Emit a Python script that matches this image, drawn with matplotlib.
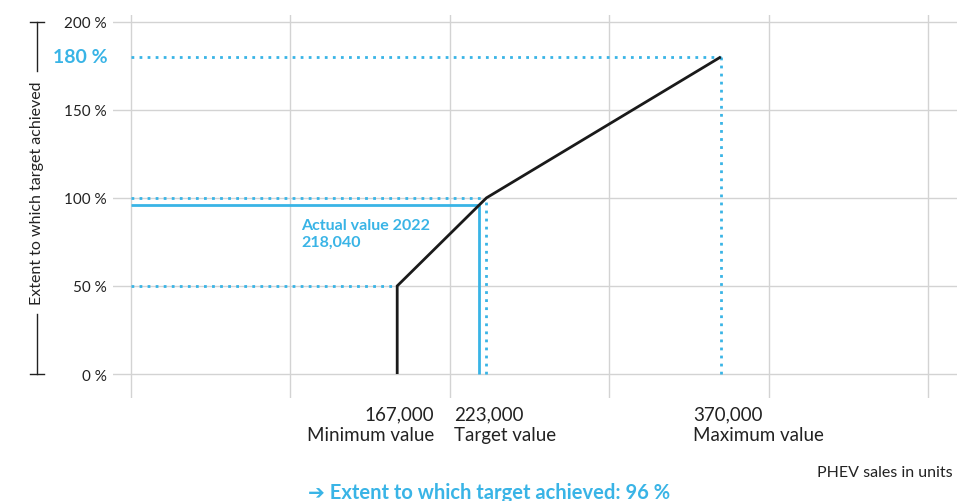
import matplotlib
matplotlib.use("Agg")
import matplotlib.pyplot as plt
from matplotlib.lines import Line2D
from matplotlib.transforms import blended_transform_factory

plt.rcParams['font.family'] = ['Lato', 'DejaVu Sans']

# Target-achievement curve for PHEV sales
min_units = 167000
target_units = 223000
max_units = 370000
actual_units = 218040

min_pct = 50
target_pct = 100
max_pct = 180
actual_pct = 96

curve_x = [min_units, min_units, target_units, max_units]
curve_y = [0, min_pct, target_pct, max_pct]

y_ticks = [0, 50, 100, 150, 200]
y_tick_labels = ["0 %", "50 %", "100 %", "150 %", "200 %"]
x_grid = [0, 100000, 200000, 300000, 400000, 500000]

marker_labels = ["Minimum value", "Target value", "Maximum value"]

BLUE = "#39b4e6"
BLACK = "#1a1a1a"
GREY = "#d3d3d3"
TEXT = "#222222"

W, H = 973, 502
fig = plt.figure(figsize=(W / 100, H / 100), dpi=100)

def fx(px):
    return px / W

def fy(py):
    return 1 - py / H

# plot region
left, right, top, bottom = 113, 957, 16, 399
ax = fig.add_axes([fx(left), fy(bottom), fx(right) - fx(left), fy(top) - fy(bottom)])
ax.set_xlim(-11300, 518200)
ax.set_ylim(-13.6, 203.8)
for s in ax.spines.values():
    s.set_visible(False)

for v in y_ticks:
    ax.axhline(v, color=GREY, lw=1.0, zorder=0)
for v in x_grid:
    ax.axvline(v, color=GREY, lw=1.0, zorder=0)

ax.set_xticks([])
ax.set_yticks(y_ticks)
ax.set_yticklabels(y_tick_labels, fontsize=11, color=TEXT)
ax.tick_params(axis='y', length=0, pad=4.3)

dot = dict(color=BLUE, lw=2.0, linestyle=(0, (1, 1.9)), dash_capstyle='butt', zorder=2)
# reference dotted guides
ax.plot([0, min_units], [min_pct, min_pct], **dot)
ax.plot([0, target_units], [target_pct, target_pct], **dot)
ax.plot([target_units, target_units], [0, target_pct], **dot)
ax.plot([0, max_units], [max_pct, max_pct], **dot)
ax.plot([max_units, max_units], [0, max_pct], **dot)

# actual value
ax.plot([0, actual_units], [actual_pct, actual_pct], color=BLUE, lw=2.0, solid_capstyle='butt', zorder=3)
ax.plot([actual_units, actual_units], [0, actual_pct], color=BLUE, lw=2.0, solid_capstyle='butt', zorder=3)

# achievement curve
ax.plot(curve_x, curve_y, color=BLACK, lw=2.0, solid_joinstyle='miter', solid_capstyle='butt', zorder=4)

ax.annotate(f"Actual value 2022\n{actual_units:,}", xy=(0, target_pct), xycoords='data',
            xytext=(170, -20), textcoords='offset pixels', ha='left', va='top',
            fontsize=11.5, fontweight='bold', color=BLUE, linespacing=1.25)

# 180 % highlight label
trans = blended_transform_factory(ax.transAxes, ax.transData)
ax.annotate(f"{max_pct} %", xy=(0, max_pct), xycoords=trans, xytext=(-5, 0),
            textcoords='offset pixels', ha='right', va='center',
            fontsize=14, fontweight='bold', color=BLUE)

# threshold labels below the axis
xtrans = blended_transform_factory(ax.transData, fig.transFigure)
label_specs = [
    (min_units, marker_labels[0], 'right', 37),
    (target_units, marker_labels[1], 'left', -32),
    (max_units, marker_labels[2], 'left', -28),
]
for xv, name, ha, off in label_specs:
    ax.annotate(f"{xv:,}\n{name}", xy=(xv, fy(425)), xycoords=xtrans,
                xytext=(off, 0), textcoords='offset pixels', ha=ha, va='center',
                fontsize=13.5, color=TEXT, linespacing=1.25, annotation_clip=False)

fig.text(fx(953), fy(473), "PHEV sales in units", ha='right', va='center',
         fontsize=11.5, color=TEXT)
fig.text(fx(489), fy(493), "\u2794 Extent to which target achieved: 96 %", ha='center', va='center',
         fontsize=14.5, fontweight='bold', color=BLUE)

# y-axis title with bracket bars
fig.text(fx(37), fy(193), "Extent to which target achieved", rotation=90,
         ha='center', va='center', fontsize=11.5, color=TEXT)
bar_kw = dict(color=TEXT, lw=1.0, transform=fig.transFigure)
fig.add_artist(Line2D([fx(37), fx(37)], [fy(22.7), fy(72)], **bar_kw))
fig.add_artist(Line2D([fx(30), fx(44)], [fy(22.7), fy(22.7)], **bar_kw))
fig.add_artist(Line2D([fx(37), fx(37)], [fy(315), fy(375)], **bar_kw))
fig.add_artist(Line2D([fx(30), fx(44)], [fy(375), fy(375)], **bar_kw))

fig.savefig("out.png", dpi=100, facecolor="white")
